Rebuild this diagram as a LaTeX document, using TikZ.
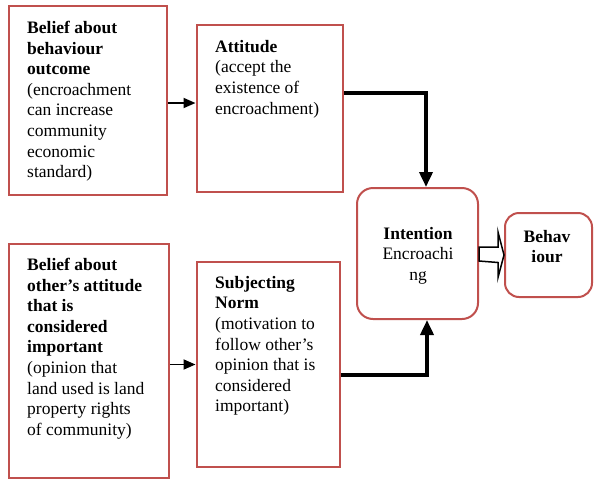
\documentclass[tikz,border=0pt]{standalone}
\usepackage{fontspec}
\setmainfont{Liberation Serif}
\usetikzlibrary{arrows.meta,calc}
\definecolor{boxred}{RGB}{192,80,77}
\begin{document}
\begin{tikzpicture}[x=1pt,y=-1pt,
  box/.style={draw=boxred,line width=2pt,fill=white,inner sep=0pt,rectangle},
  rbox/.style={box,rounded corners=16pt},
  txt/.style={anchor=north west,align=left,inner sep=0pt,font=\fontsize{17.5}{20.6}\selectfont},
  ctxt/.style={anchor=north,align=center,inner sep=0pt,font=\fontsize{17.5}{20.6}\selectfont},
  thinarr/.style={line width=1.8pt,-{Triangle[length=12pt,width=10pt]}},
  thickarr/.style={line width=3.6pt,-{Triangle[length=15pt,width=13pt]}}]
\useasboundingbox (0,0) rectangle (594,480);
\fill[white] (0,0) rectangle (594,480);
% boxes
\node[box,minimum width=158pt,minimum height=189pt] (b1) at (88,100.5) {};
\node[box,minimum width=146.5pt,minimum height=167pt] (b2) at (269.75,108.5) {};
\node[box,minimum width=160pt,minimum height=234pt] (b3) at (89,361) {};
\node[box,minimum width=143.5pt,minimum height=205pt] (b4) at (268.25,364.5) {};
\node[rbox,minimum width=121pt,minimum height=131pt] (int) at (417.5,253.5) {};
\node[rbox,rounded corners=14pt,minimum width=87pt,minimum height=84pt] (beh) at (548.5,255) {};
% texts
\node[txt] (t1) at (27,21) {\textbf{Belief about}\\\textbf{behaviour}\\\textbf{outcome}\\(encroachment\\can increase\\community\\economic\\standard)};
\node[txt] (t2) at (215,40) {\textbf{Attitude}\\(accept the\\existence of\\encroachment)};
\node[txt] (t3) at (27,258) {\textbf{Belief about}\\\textbf{other’s attitude}\\\textbf{that is}\\\textbf{considered}\\\textbf{important}\\(opinion that\\land used is land\\property rights\\of community)};
\node[txt] (t4) at (215,276) {\textbf{Subjecting}\\\textbf{Norm}\\(motivation to\\follow other’s\\opinion that is\\considered\\important)};
\node[ctxt] (t5) at (418,227) {\textbf{Intention}\\Encroachi\\ng};
\node[ctxt] (t6) at (547,230) {\textbf{Behav}\\\textbf{iour}};
% connectors
\coordinate (y1) at (0,103);
\draw[thinarr] (b1.east |- y1) -- (b2.west |- y1);
\draw[thinarr] (b3.east |- b4.west) -- (b4.west);
\coordinate (k1) at (426,93);
\draw[thickarr] (b2.east |- k1) -| (k1 |- int.north);
\coordinate (k2) at (427,375);
\draw[thickarr] (b4.east |- k2) -| (k2 |- int.south);
% hollow arrow
\draw[line width=1.5pt,fill=white,line join=miter]
  ($(int.east)+(0,-6.5)$) -- ++(19,0) -- ++(0,-15) -- ($(beh.west)+(0,0)$)
  -- ($(int.east)+(19,24)$) -- ++(0,-15) -- ($(int.east)+(0,7.5)$) -- cycle;
\end{tikzpicture}
\end{document}
